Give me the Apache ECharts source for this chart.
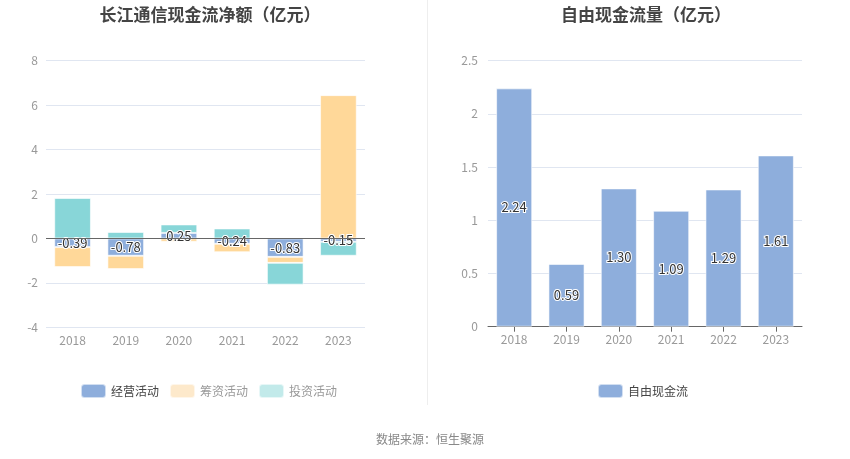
<!DOCTYPE html>
<html>
<head>
<meta charset="utf-8">
<script src="https://cdn.jsdelivr.net/npm/echarts@6/dist/echarts.min.js"></script>
<style>html,body{margin:0;padding:0;background:#fff;}#c{width:850px;height:459px;}</style>
</head>
<body>
<div id="c"></div>
<script>
const years = ['2018','2019','2020','2021','2022','2023'];
const operating = [-0.39, -0.78, 0.25, -0.24, -0.83, -0.15];
const financing = [-0.90, -0.60, -0.15, -0.38, -0.27, 6.45];
const investing = [1.82, 0.29, 0.38, 0.45, -0.98, -0.63];
const freeCash = [2.24, 0.59, 1.30, 1.09, 1.29, 1.61];
const leftTicks = {min: -4, max: 8, interval: 2};
const rightTicks = {min: 0, max: 2.5, interval: 0.5};

const FONT = '"Noto Sans CJK SC", "Noto Sans", sans-serif';
const cBlue = '#8eaedc', cOrange = '#ffd899', cCyan = '#88d6d8';
const labelStyle = {
  show: true, position: 'inside', color: '#333', fontSize: 13,
  textBorderColor: '#fff', textBorderWidth: 2, fontFamily: FONT,
  formatter: p => p.value.toFixed(2)
};
const barBorder = {borderColor: 'rgba(255,255,255,0.6)', borderWidth: 1};

const chart = echarts.init(document.getElementById('c'), null, {renderer: 'canvas'});
chart.setOption({
  animation: false,
  textStyle: {fontFamily: FONT},
  title: [
    {text: '长江通信现金流净额（亿元）', left: 205, top: 1, textAlign: 'center',
     textStyle: {fontSize: 17, fontWeight: 'bold', color: '#444', fontFamily: FONT}},
    {text: '自由现金流量（亿元）', left: 641, top: 1, textAlign: 'center',
     textStyle: {fontSize: 17, fontWeight: 'bold', color: '#444', fontFamily: FONT}},
    {text: '数据来源：恒生聚源', left: 425, top: 428, textAlign: 'center',
     textStyle: {fontSize: 12, fontWeight: 'normal', color: '#888', fontFamily: FONT}}
  ],
  legend: [
    {left: 75, top: 378, itemWidth: 25, itemHeight: 14, itemGap: 10, icon: 'roundRect',
     textStyle: {fontSize: 12, color: '#999', fontFamily: FONT},
     data: [
       {name: '经营活动', itemStyle: {color: cBlue}, textStyle: {color: '#444'}},
       {name: '筹资活动', itemStyle: {color: '#fde9cb'}},
       {name: '投资活动', itemStyle: {color: '#c2eaea'}}
     ]},
    {left: 592, top: 378, itemWidth: 25, itemHeight: 14, icon: 'roundRect',
     textStyle: {fontSize: 12, color: '#444', fontFamily: FONT},
     data: [{name: '自由现金流', itemStyle: {color: cBlue}}]}
  ],
  grid: [
    {left: 46, right: 850 - 365, top: 60.7, bottom: 459 - 327.3},
    {left: 488, right: 850 - 802, top: 60.7, bottom: 459 - 326.7}
  ],
  xAxis: [
    {type: 'category', gridIndex: 0, data: years,
     axisLine: {show: false}, axisTick: {show: false},
     axisLabel: {color: '#999', fontSize: 12, margin: 7}},
    {type: 'category', gridIndex: 1, data: years,
     axisLine: {show: true, lineStyle: {color: '#666'}},
     axisTick: {show: true, alignWithLabel: true, lineStyle: {color: '#666'}},
     axisLabel: {color: '#999', fontSize: 12, margin: 7}}
  ],
  yAxis: [
    {type: 'value', gridIndex: 0, min: leftTicks.min, max: leftTicks.max, interval: leftTicks.interval,
     axisLine: {show: false}, axisTick: {show: false},
     axisLabel: {color: '#999', fontSize: 12, margin: 8},
     splitLine: {lineStyle: {color: '#e0e6f1'}}},
    {type: 'value', gridIndex: 1, min: rightTicks.min, max: rightTicks.max, interval: rightTicks.interval,
     axisLine: {show: false}, axisTick: {show: false},
     axisLabel: {color: '#999', fontSize: 12, margin: 10},
     splitLine: {lineStyle: {color: '#e0e6f1'}}}
  ],
  graphic: [
    {type: 'line', shape: {x1: 427.5, y1: 0, x2: 427.5, y2: 405}, style: {stroke: '#eee', lineWidth: 1}, silent: true}
  ],
  series: [
    {name: '经营活动', type: 'bar', xAxisIndex: 0, yAxisIndex: 0, stack: 'cf', barWidth: '69%',
     data: operating, itemStyle: Object.assign({color: cBlue}, barBorder), label: labelStyle, z: 3,
     markLine: {silent: true, symbol: 'none', label: {show: false},
       lineStyle: {color: '#666', type: 'solid', width: 1}, data: [{yAxis: 0}]}},
    {name: '筹资活动', type: 'bar', xAxisIndex: 0, yAxisIndex: 0, stack: 'cf', barWidth: '69%',
     data: financing, itemStyle: Object.assign({color: cOrange}, barBorder)},
    {name: '投资活动', type: 'bar', xAxisIndex: 0, yAxisIndex: 0, stack: 'cf', barWidth: '69%',
     data: investing, itemStyle: Object.assign({color: cCyan}, barBorder)},
    {name: '自由现金流', type: 'bar', xAxisIndex: 1, yAxisIndex: 1, barWidth: '69%',
     data: freeCash, itemStyle: Object.assign({color: cBlue}, barBorder), label: labelStyle}
  ]
});
</script>
</body>
</html>
